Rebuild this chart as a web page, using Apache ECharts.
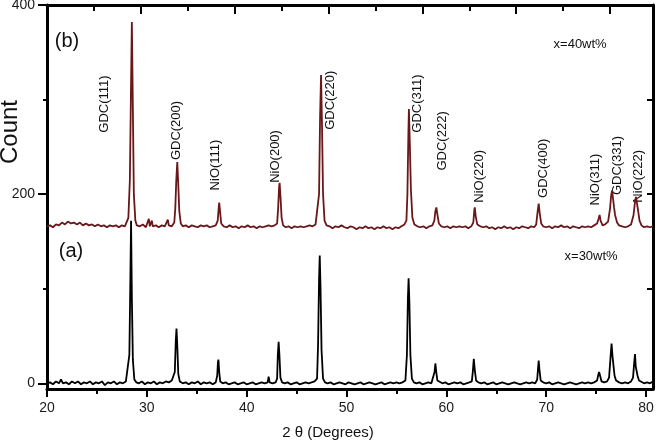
<!DOCTYPE html>
<html>
<head>
<meta charset="utf-8">
<script src="https://cdn.jsdelivr.net/npm/echarts@6/dist/echarts.min.js"></script>
<style>
  html, body { margin: 0; padding: 0; background: #fff; }
  #main { width: 658px; height: 440px; }
</style>
</head>
<body>
<div id="main"></div>
<script>
// x = 40 wt% pattern (b), [2theta, count]
let patternB = [
  [20.0,166],[20.3,167],[20.6,165],[20.9,168],[21.2,167],[21.5,170],[21.8,168],[22.1,171],[22.4,169],[22.7,170],
  [23.0,168],[23.3,170],[23.6,167],[23.9,169],[24.2,167],[24.5,168],[24.8,166],[25.1,168],[25.4,166],[25.7,167],
  [26.0,165],[26.3,167],[26.6,166],[26.9,167],[27.2,165],[27.5,167],[27.8,166],[28.0,168],
  [28.15,175],[28.3,215],[28.4,300],[28.5,382],[28.6,290],[28.7,200],[28.85,172],[29.0,167],
  [29.3,166],[29.6,168],[29.9,165],[30.1,166],[30.2,174],[30.3,166],[30.5,172],[30.6,166],[30.9,167],[31.2,165],
  [31.5,167],[31.8,166],[32.0,167],[32.1,173],[32.2,167],[32.5,166],[32.75,170],
  [32.85,185],[32.95,215],[33.05,234],[33.15,210],[33.25,182],[33.4,169],
  [33.6,166],[33.9,167],[34.2,165],[34.5,167],[34.8,166],[35.1,165],[35.4,167],[35.7,166],[36.0,167],[36.3,165],
  [36.6,166],[36.9,167],
  [37.1,172],[37.2,186],[37.25,191],[37.35,180],[37.45,169],
  [37.7,166],[38.0,165],[38.3,167],[38.6,165],[38.9,166],[39.2,164],[39.5,166],[39.8,165],[40.1,167],[40.4,165],
  [40.7,166],[41.0,164],[41.3,166],[41.6,165],[41.9,166],[42.2,167],[42.5,166],[42.8,167],[43.05,169],
  [43.15,185],[43.25,208],[43.3,212],[43.4,195],[43.5,175],[43.65,167],
  [43.9,165],[44.2,166],[44.5,164],[44.8,166],[45.1,165],[45.4,166],[45.7,165],[46.0,166],[46.3,167],[46.6,166],
  [46.9,168],[47.1,170],
  [47.25,200],[47.35,280],[47.45,326],[47.55,270],[47.65,200],[47.8,172],
  [48.0,167],[48.3,166],[48.6,164],[48.9,166],[49.2,165],[49.5,167],[49.8,165],[50.1,164],[50.4,166],[50.7,165],
  [51.0,163],[51.3,165],[51.6,164],[51.9,166],[52.2,164],[52.5,165],[52.8,163],[53.1,165],[53.4,164],[53.7,166],
  [54.0,164],[54.3,165],[54.6,163],[54.9,165],[55.2,164],[55.5,166],[55.8,168],[56.0,172],
  [56.1,200],[56.2,265],[56.25,290],[56.35,250],[56.45,205],[56.6,175],[56.8,168],
  [57.1,166],[57.4,165],[57.7,166],[58.0,164],[58.3,166],[58.6,167],[58.8,172],
  [58.9,182],[59.0,186],[59.1,179],[59.25,169],
  [59.5,166],[59.8,165],[60.1,166],[60.4,164],[60.7,166],[61.0,165],[61.3,166],[61.6,165],[61.9,166],[62.2,164],
  [62.5,166],[62.7,170],
  [62.8,183],[62.85,186],[62.95,176],[63.1,168],
  [63.4,166],[63.7,165],[64.0,166],[64.3,164],[64.6,165],[64.9,163],[65.2,165],[65.5,164],[65.8,166],[66.1,164],
  [66.4,165],[66.7,163],[67.0,165],[67.3,164],[67.6,166],[67.9,165],[68.2,164],[68.5,166],[68.8,165],[69.0,168],
  [69.15,182],[69.25,190],[69.35,180],[69.5,169],
  [69.7,166],[70.0,165],[70.3,166],[70.6,164],[70.9,166],[71.2,165],[71.5,167],[71.8,165],[72.1,166],[72.4,164],
  [72.7,166],[73.0,165],[73.3,164],[73.6,166],[73.9,165],[74.2,166],[74.5,165],[74.8,167],[75.1,169],
  [75.25,174],[75.35,178],[75.45,172],[75.65,167],[75.9,168],[76.2,171],[76.4,185],
  [76.5,198],[76.6,204],[76.7,195],[76.8,186],[76.9,178],[77.1,170],
  [77.3,167],[77.6,166],[77.9,165],[78.2,166],[78.5,168],[78.75,178],
  [78.9,192],[79.0,197],[79.1,190],[79.2,183],[79.35,172],[79.55,167],
  [79.8,165],[80.1,166],[80.4,165],[80.7,166]
]

// x = 30 wt% pattern (a)
let patternA = [
  [20.0,0],[20.3,1],[20.6,-1],[20.9,2],[21.2,0],[21.4,4],[21.6,0],[21.9,1],[22.2,-1],[22.5,2],
  [22.8,0],[23.1,2],[23.4,-1],[23.7,1],[24.0,0],[24.3,2],[24.6,-1],[24.9,1],[25.2,0],[25.5,2],
  [25.8,-2],[26.1,1],[26.4,0],[26.7,2],[27.0,-1],[27.3,1],[27.6,0],[27.9,2],[28.1,4],
  [28.25,30],[28.35,110],[28.42,172],[28.5,90],[28.6,25],[28.75,4],
  [28.95,1],[29.2,0],[29.5,2],[29.8,-1],[30.1,1],[30.4,0],[30.7,2],[31.0,-1],[31.3,1],[31.6,0],
  [31.9,2],[32.2,1],[32.5,3],[32.7,2],
  [32.8,12],[32.9,45],[32.97,58],[33.05,40],[33.15,10],[33.3,2],
  [33.6,0],[33.9,1],[34.2,-1],[34.5,1],[34.8,0],[35.1,2],[35.4,-1],[35.7,1],[36.0,0],[36.3,1],
  [36.6,-1],[36.9,1],
  [37.05,8],[37.12,22],[37.17,25],[37.25,12],[37.35,2],
  [37.6,0],[37.9,1],[38.2,-1],[38.5,0],[38.8,1],[39.1,-1],[39.4,0],[39.7,1],[40.0,-1],[40.3,0],
  [40.6,1],[40.9,-1],[41.2,0],[41.5,1],[41.8,0],[42.1,1],[42.2,7],[42.3,1],[42.6,0],[42.9,1],[43.05,5],
  [43.12,30],[43.2,44],[43.28,30],[43.38,6],[43.55,1],
  [43.8,0],[44.1,1],[44.4,-1],[44.7,0],[45.0,1],[45.3,-1],[45.6,0],[45.9,1],[46.2,0],[46.5,1],
  [46.8,2],[47.05,5],
  [47.15,40],[47.25,110],[47.32,135],[47.4,100],[47.5,35],[47.65,5],
  [47.85,1],[48.1,0],[48.4,1],[48.7,-1],[49.0,0],[49.3,1],[49.6,0],[49.9,-1],[50.2,1],[50.5,0],
  [50.8,-1],[51.1,0],[51.4,1],[51.7,-1],[52.0,0],[52.3,1],[52.6,0],[52.9,-1],[53.2,0],[53.5,1],
  [53.8,-1],[54.1,0],[54.4,1],[54.7,0],[55.0,1],[55.3,0],[55.6,1],[55.9,3],
  [56.05,30],[56.15,90],[56.22,111],[56.3,85],[56.4,30],[56.55,5],
  [56.75,1],[57.0,0],[57.3,1],[57.6,-1],[57.9,0],[58.2,1],[58.5,0],[58.7,2],
  [58.82,12],[58.9,21],[58.98,13],[59.1,3],
  [59.3,1],[59.6,0],[59.9,1],[60.2,-1],[60.5,0],[60.8,1],[61.1,0],[61.4,1],[61.7,-1],[62.0,0],
  [62.3,1],[62.55,2],
  [62.65,12],[62.75,26],[62.85,14],[62.98,3],
  [63.2,1],[63.5,0],[63.8,1],[64.1,-1],[64.4,0],[64.7,1],[65.0,-1],[65.3,0],[65.6,1],[65.9,0],
  [66.2,-1],[66.5,0],[66.8,1],[67.1,0],[67.4,-1],[67.7,0],[68.0,1],[68.3,0],[68.6,1],[68.9,0],[69.1,4],
  [69.18,15],[69.25,24],[69.33,14],[69.45,3],
  [69.7,1],[70.0,0],[70.3,1],[70.6,-1],[70.9,0],[71.2,1],[71.5,0],[71.8,-1],[72.1,0],[72.4,1],
  [72.7,0],[73.0,-1],[73.3,0],[73.6,1],[73.9,0],[74.2,1],[74.5,0],[74.8,1],[75.1,3],
  [75.22,9],[75.3,12],[75.4,8],[75.55,2],[75.8,1],[76.1,2],[76.3,6],
  [76.45,28],[76.55,42],[76.65,28],[76.75,18],[76.85,8],[77.0,3],
  [77.3,1],[77.6,0],[77.9,1],[78.2,0],[78.5,2],[78.7,6],
  [78.82,22],[78.9,31],[78.97,18],[79.05,16],[79.15,8],[79.3,3],
  [79.5,1],[79.8,0],[80.1,1],[80.4,0],[80.7,2]
]

let xTicks = [20, 30, 40, 50, 60, 70, 80]
let xMinorTicks = [25, 35, 45, 55, 65, 75]
let topTicks = [29.4, 38.8, 48.2, 57.6, 67.0, 76.4]
let topMinorTicks = [24.7, 34.1, 43.5, 52.9, 62.3, 71.7]
let yTicks = [0, 200, 400]
let yMinorTicks = [100, 300]
let rightTicks = [100, 200, 300]

// peak labels, anchored at the bottom of the rotated text
let peakNames = ['GDC(111)', 'GDC(200)', 'NiO(111)', 'NiO(200)', 'GDC(220)', 'GDC(311)',
  'GDC(222)', 'NiO(220)', 'GDC(400)', 'NiO(311)', 'GDC(331)', 'NiO(222)']
let peakNameX = [25.8, 33.0, 36.9, 42.9, 48.4, 57.1, 59.6, 63.3, 69.7, 74.9, 77.1, 79.2]
let peakNameY = [265, 236, 204, 212, 268, 265, 225, 191, 196, 188, 199, 191]

let FONT = '"Liberation Sans", Arial, sans-serif'
let INK = '#000'
let X_MIN = 20, X_MAX = 80.7, Y_MIN = -6, Y_MAX = 400

function xAxisOf(pos, ticks, len, inside, showLine) {
  return {
    type: 'value', position: pos, min: X_MIN, max: X_MAX,
    axisLine: { show: showLine, onZero: false, lineStyle: { color: INK, width: 3 } },
    axisTick: { show: true, inside: inside, length: len, customValues: ticks, lineStyle: { color: INK, width: 2 } },
    axisLabel: { show: false },
    splitLine: { show: false }
  }
}

function yAxisOf(pos, ticks, len, inside, showLine) {
  return {
    type: 'value', position: pos, min: Y_MIN, max: Y_MAX,
    axisLine: { show: showLine, onZero: false, lineStyle: { color: INK, width: 3 } },
    axisTick: { show: true, inside: inside, length: len, customValues: ticks, lineStyle: { color: INK, width: 2 } },
    axisLabel: { show: false },
    splitLine: { show: false }
  }
}

let chart = echarts.init(document.getElementById('main'))

let xMain = xAxisOf('bottom', xTicks, 8, false, true)
xMain.axisLabel = { show: true, customValues: xTicks, fontSize: 14, color: '#1a1a1a', fontFamily: FONT, margin: 12 }
let yMain = yAxisOf('left', yTicks, 9, false, true)
yMain.axisLabel = { show: true, customValues: yTicks, fontSize: 14, color: '#1a1a1a', fontFamily: FONT, margin: 12 }

chart.setOption({
  animation: false,
  backgroundColor: '#fff',
  grid: { left: 47, right: 5, top: 5, bottom: 51, containLabel: false, outerBoundsMode: 'none' },
  xAxis: [
    xMain,
    xAxisOf('bottom', xMinorTicks, 5, false, false),
    xAxisOf('top', topTicks, 9, true, true),
    xAxisOf('top', topMinorTicks, 6, true, false)
  ],
  yAxis: [
    yMain,
    yAxisOf('left', yMinorTicks, 4, false, false),
    yAxisOf('right', rightTicks, 6, true, true)
  ],
  series: [
    {
      name: 'x=40wt%', type: 'line', data: patternB, showSymbol: false, smooth: false,
      xAxisIndex: 0, yAxisIndex: 0,
      lineStyle: { color: '#6a1719', width: 1.8 }
    },
    {
      name: 'x=30wt%', type: 'line', data: patternA, showSymbol: false, smooth: false,
      xAxisIndex: 0, yAxisIndex: 0,
      lineStyle: { color: '#000', width: 1.8 }
    }
  ]
})

// text annotations placed through the chart's own scales
function at(x, y) {
  return chart.convertToPixel({ xAxisIndex: 0, yAxisIndex: 0 }, [x, y])
}

let graphics = []
peakNames.forEach(function (name, i) {
  let p = at(peakNameX[i], peakNameY[i])
  graphics.push({
    type: 'text', x: p[0], y: p[1], rotation: Math.PI / 2,
    style: { text: name, font: '13px ' + FONT, fill: '#111', align: 'left', verticalAlign: 'middle' }
  })
})

let notes = [
  { text: '(b)', x: 22.0, y: 361, size: 20 },
  { text: '(a)', x: 22.4, y: 139, size: 20 },
  { text: 'x=40wt%', x: 73.4, y: 358, size: 13 },
  { text: 'x=30wt%', x: 74.5, y: 134, size: 13 }
]
notes.forEach(function (n) {
  let p = at(n.x, n.y)
  graphics.push({
    type: 'text', x: p[0], y: p[1],
    style: { text: n.text, font: n.size + 'px ' + FONT, fill: '#111', align: 'center', verticalAlign: 'middle' }
  })
})

// axis titles
graphics.push({
  type: 'text', x: 10, y: 132, rotation: Math.PI / 2,
  style: { text: 'Count', font: '24px ' + FONT, fill: '#111', align: 'center', verticalAlign: 'middle' }
})
graphics.push({
  type: 'text', x: 328, y: 433,
  style: { text: '2 θ (Degrees)', font: '15px ' + FONT, fill: '#111', align: 'center', verticalAlign: 'middle' }
})

chart.setOption({ graphic: graphics })
</script>
</body>
</html>
